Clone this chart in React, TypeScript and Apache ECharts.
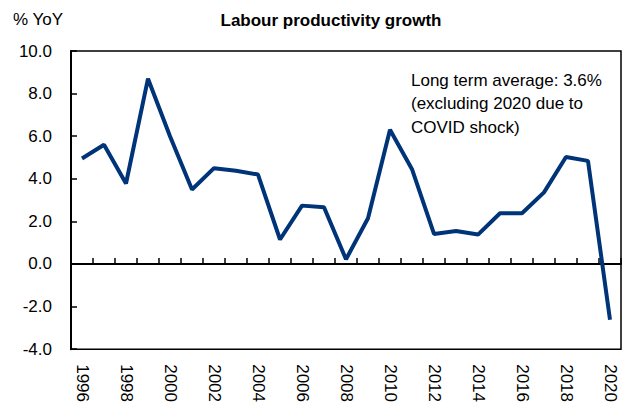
import React, { useEffect, useRef } from "react";
import * as echarts from "echarts";

const years = [
  "1996", "1997", "1998", "1999", "2000", "2001", "2002", "2003", "2004", "2005",
  "2006", "2007", "2008", "2009", "2010", "2011", "2012", "2013", "2014", "2015",
  "2016", "2017", "2018", "2019", "2020",
];
const productivity = [
  4.95, 5.6, 3.78, 8.7, 6.0, 3.5, 4.5, 4.38, 4.2, 1.15,
  2.74, 2.66, 0.22, 2.15, 6.3, 4.45, 1.41, 1.55, 1.38, 2.38,
  2.38, 3.36, 5.02, 4.84, -2.62,
];
const yTicks = { min: -4, max: 10, interval: 2 };
const titleText = "Labour productivity growth";
const unitText = "% YoY";
const noteLines = ["Long term average: 3.6%", "(excluding 2020 due to", "COVID shock)"];

const FONT = "'Liberation Sans', Arial, sans-serif";

export default function App() {
  const ref = useRef<HTMLDivElement>(null);
  useEffect(() => {
    if (!ref.current) return;
    const chart = echarts.init(ref.current, undefined, { renderer: "svg" });
    chart.setOption({
      animation: false,
      grid: {
        left: 71,
        top: 51,
        right: 1,
        bottom: 54,
        show: true,
        borderColor: "#000",
        borderWidth: 1.5,
        backgroundColor: "#fff",
      },
      graphic: [
        {
          type: "text",
          x: 13,
          y: 19,
          style: {
            text: unitText,
            fontSize: 17,
            fontFamily: FONT,
            fill: "#000",
            align: "left",
            verticalAlign: "middle",
          },
        },
        {
          type: "text",
          x: 331,
          y: 20,
          style: {
            text: titleText,
            fontSize: 17,
            fontWeight: "bold",
            fontFamily: FONT,
            fill: "#000",
            align: "center",
            verticalAlign: "middle",
          },
        },
        ...noteLines.map((t, i) => ({
          type: "text",
          x: 411,
          y: 80 + i * 23.5,
          style: {
            text: t,
            fontSize: 17,
            fontFamily: FONT,
            fill: "#000",
            align: "left",
            verticalAlign: "middle",
          },
        })),
      ],
      xAxis: [
        {
          type: "category",
          data: years,
          boundaryGap: true,
          axisLine: { onZero: true, lineStyle: { color: "#000", width: 2 } },
          axisTick: {
            show: true,
            inside: true,
            length: 6,
            interval: 0,
            lineStyle: { color: "#000", width: 1.5 },
          },
          axisLabel: { show: false },
          splitLine: { show: false },
        },
        {
          type: "category",
          data: years,
          position: "bottom",
          boundaryGap: true,
          axisLine: { show: false, onZero: false },
          axisTick: { show: false },
          axisLabel: {
            interval: 1,
            rotate: -90,
            margin: 15,
            fontSize: 17,
            fontFamily: FONT,
            color: "#000",
          },
          splitLine: { show: false },
        },
      ],
      yAxis: {
        type: "value",
        min: yTicks.min,
        max: yTicks.max,
        interval: yTicks.interval,
        axisLine: { show: true, lineStyle: { color: "#000", width: 2 } },
        axisTick: { show: true, inside: true, length: 6, lineStyle: { color: "#000", width: 1.5 } },
        axisLabel: {
          formatter: (v: number) => v.toFixed(1),
          margin: 19,
          fontSize: 17,
          fontFamily: FONT,
          color: "#000",
        },
        splitLine: { show: false },
      },
      series: [
        {
          type: "line",
          xAxisIndex: 0,
          data: productivity,
          symbol: "none",
          lineStyle: { color: "#003478", width: 4 },
          itemStyle: { color: "#003478" },
        },
      ],
    });
    return () => chart.dispose();
  }, []);
  return <div ref={ref} style={{ width: 622, height: 405, position: "absolute", left: 0, top: 0 }} />;
}
